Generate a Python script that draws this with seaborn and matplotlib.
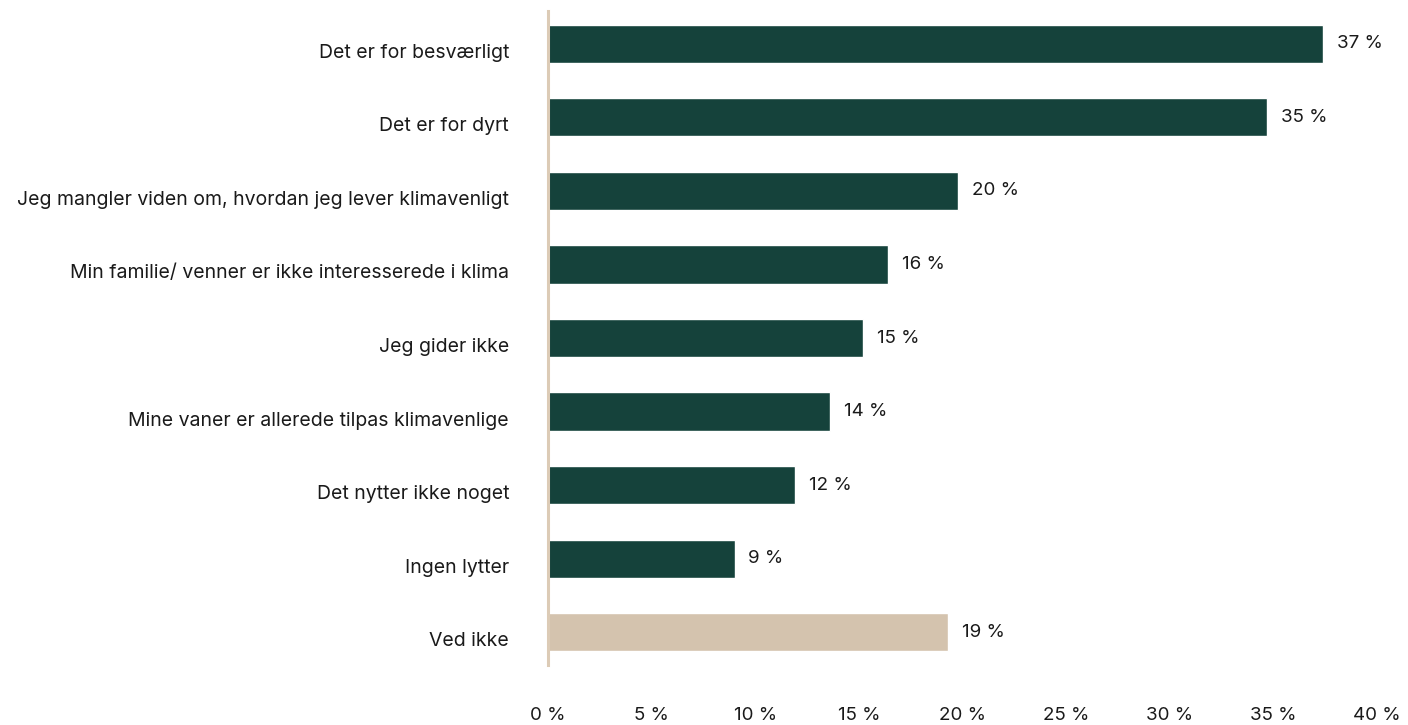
import matplotlib
matplotlib.use("Agg")
import matplotlib.pyplot as plt
import matplotlib.transforms as mtransforms
import pandas as pd
import seaborn as sns

categories = [
    "Det er for besværligt",
    "Det er for dyrt",
    "Jeg mangler viden om, hvordan jeg lever klimavenligt",
    "Min familie/ venner er ikke interesserede i klima",
    "Jeg gider ikke",
    "Mine vaner er allerede tilpas klimavenlige",
    "Det nytter ikke noget",
    "Ingen lytter",
    "Ved ikke",
]
values = [37.4, 34.7, 19.8, 16.4, 15.2, 13.6, 11.9, 9.0, 19.3]
value_labels = ["37 %", "35 %", "20 %", "16 %", "15 %", "14 %", "12 %", "9 %", "19 %"]
x_ticks = [0, 5, 10, 15, 20, 25, 30, 35, 40]

green = "#15423b"
beige = "#d4c3ae"
colors = [green] * 8 + [beige]

df = pd.DataFrame({"kategori": categories, "andel": values})

sns.set_style("white")
plt.rcParams["font.family"] = ["Inter", "DejaVu Sans"]
text_color = "#1a1a1a"

fig = plt.figure(figsize=(14.08, 7.25), dpi=100)
ax = fig.add_axes([548 / 1408, 56 / 725, (1377 - 548) / 1408, (718 - 56) / 725])

sns.barplot(data=df, x="andel", y="kategori", hue="kategori", palette=colors,
            width=0.52, legend=False, ax=ax, saturation=1)

for container, lab in zip(ax.containers, value_labels):
    ax.bar_label(container, labels=[lab], padding=10, fontsize=13.5, color=text_color)

ax.set_xlim(0, 40)
ax.set_ylim(8.5, -0.5)
ax.set_xticks(x_ticks)
ax.set_xticklabels([f"{t} %" for t in x_ticks])
ax.set_xlabel("")
ax.set_ylabel("")

for s in ["top", "right", "bottom"]:
    ax.spines[s].set_visible(False)
ax.spines["left"].set_color("#dccbb6")
ax.spines["left"].set_linewidth(2.2)
ax.spines["left"].set_bounds(8.45, -0.45)

ax.tick_params(axis="x", length=0, pad=27, labelsize=13.5, labelcolor=text_color)
ax.tick_params(axis="y", length=0, pad=28, labelsize=14, labelcolor=text_color)

# category labels sit a little below the bar centres in the original
shift = mtransforms.ScaledTranslation(0, -7 / 100, fig.dpi_scale_trans)
for lbl in ax.get_yticklabels():
    lbl.set_transform(lbl.get_transform() + shift)

fig.savefig("out.png", dpi=100)
